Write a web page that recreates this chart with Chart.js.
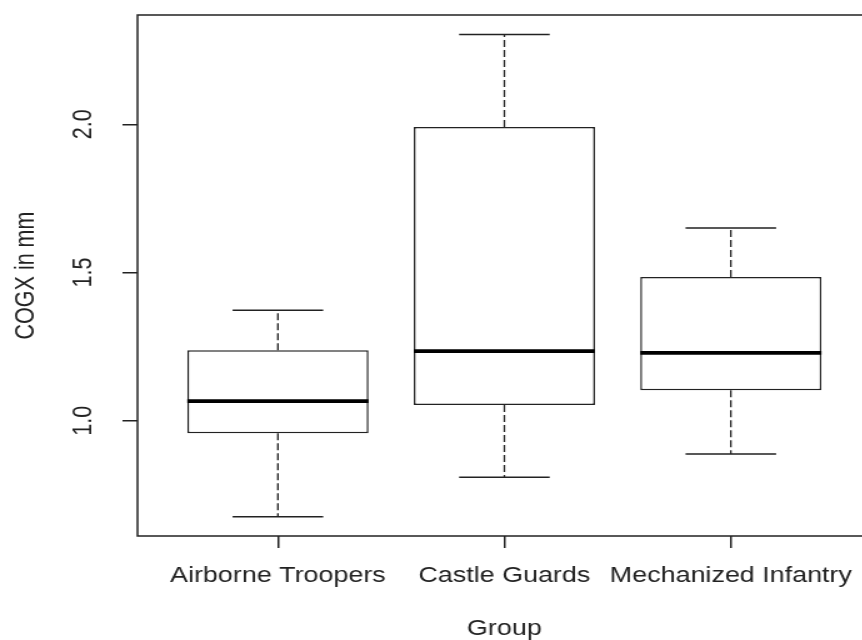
<!DOCTYPE html>
<html>
<head>
<meta charset="utf-8">
<script src="https://cdn.jsdelivr.net/npm/chart.js@4"></script>
<style>
  html, body { margin: 0; padding: 0; background: #fff; overflow: hidden; }
</style>
</head>
<body>
<!-- drawn narrow and stretched sideways, like the original image -->
<canvas id="chart" width="720" height="640" style="display:block;width:900px;height:640px"></canvas>
<script>
const groups = ['Airborne Troopers', 'Castle Guards', 'Mechanized Infantry'];
const lowerWhisker = [0.676, 0.809, 0.888];
const lowerQuartile = [0.958, 1.053, 1.103];
const medians = [1.066, 1.235, 1.229];
const upperQuartile = [1.238, 1.991, 1.485];
const upperWhisker = [1.373, 2.303, 1.650];
const yTicks = [1.0, 1.5, 2.0];

const ink = '#222';
const fontFamily = '"Liberation Sans", Arial, sans-serif';

// median, whiskers and caps plus the plot frame
const boxPlotParts = {
  id: 'boxPlotParts',
  beforeDatasetsDraw(chart) {
    const {ctx, chartArea: a} = chart;
    ctx.save();
    ctx.strokeStyle = ink;
    ctx.lineWidth = 1.5;
    ctx.strokeRect(a.left, a.top, a.right - a.left, a.bottom - a.top);
    ctx.restore();
  },
  afterDatasetsDraw(chart) {
    const {ctx, scales: {x, y}} = chart;
    ctx.save();
    ctx.strokeStyle = ink;
    groups.forEach((g, i) => {
      const cx = x.getPixelForValue(i + 1);
      const capL = x.getPixelForValue(i + 1 - 0.2);
      const capR = x.getPixelForValue(i + 1 + 0.2);
      const boxL = x.getPixelForValue(i + 1 - 0.4);
      const boxR = x.getPixelForValue(i + 1 + 0.4);

      ctx.setLineDash([7, 3]);
      ctx.lineWidth = 1.3;
      ctx.beginPath();
      ctx.moveTo(cx, y.getPixelForValue(upperQuartile[i]));
      ctx.lineTo(cx, y.getPixelForValue(upperWhisker[i]));
      ctx.moveTo(cx, y.getPixelForValue(lowerQuartile[i]));
      ctx.lineTo(cx, y.getPixelForValue(lowerWhisker[i]));
      ctx.stroke();

      ctx.setLineDash([]);
      ctx.lineWidth = 1.5;
      ctx.beginPath();
      ctx.moveTo(capL, y.getPixelForValue(upperWhisker[i]));
      ctx.lineTo(capR, y.getPixelForValue(upperWhisker[i]));
      ctx.moveTo(capL, y.getPixelForValue(lowerWhisker[i]));
      ctx.lineTo(capR, y.getPixelForValue(lowerWhisker[i]));
      ctx.stroke();

      ctx.strokeStyle = '#000';
      ctx.lineWidth = 3.8;
      ctx.beginPath();
      ctx.moveTo(boxL, y.getPixelForValue(medians[i]));
      ctx.lineTo(boxR, y.getPixelForValue(medians[i]));
      ctx.stroke();
      ctx.strokeStyle = ink;
    });
    ctx.restore();
  }
};

new Chart(document.getElementById('chart'), {
  type: 'bar',
  data: {
    datasets: [{
      data: groups.map((g, i) => ({x: i + 1, y: [lowerQuartile[i], upperQuartile[i]]})),
      backgroundColor: '#fff',
      borderColor: ink,
      borderWidth: 1.5,
      borderSkipped: false,
      barPercentage: 0.8,
      categoryPercentage: 1
    }]
  },
  options: {
    responsive: false,
    animation: false,
    devicePixelRatio: 1,
    layout: { padding: { top: 15, right: 23, left: 0, bottom: 0 } },
    plugins: { legend: { display: false }, tooltip: { enabled: false } },
    scales: {
      x: {
        type: 'linear',
        min: 0.38,
        max: 3.62,
        offset: false,
        grid: { offset: false, drawOnChartArea: false, tickLength: 12, color: ink, lineWidth: 1.5 },
        border: { display: false },
        afterBuildTicks: s => { s.ticks = [1, 2, 3].map(v => ({value: v})); },
        afterFit: s => { s.height = 104; s.paddingLeft = 0; s.paddingRight = 0; },
        ticks: {
          autoSkip: false, maxRotation: 0, padding: 15, color: ink,
          font: { family: fontFamily, size: 21.5 },
          callback: v => groups[Math.round(v) - 1] || ''
        },
        title: {
          display: true, text: 'Group', color: ink,
          font: { family: fontFamily, size: 21.5, lineHeight: 1 },
          padding: { top: 0, bottom: 0 }
        }
      },
      y: {
        min: 0.611,
        max: 2.369,
        beginAtZero: false,
        grid: { drawOnChartArea: false, tickLength: 12, color: ink, lineWidth: 1.5 },
        border: { display: false },
        afterBuildTicks: s => { s.ticks = yTicks.map(v => ({value: v})); },
        afterFit: s => { s.width = 110; s.paddingTop = 0; s.paddingBottom = 0; },
        ticks: {
          minRotation: 90, maxRotation: 90, crossAlign: 'center', padding: 16, color: ink,
          font: { family: fontFamily, size: 21.5 },
          callback: v => v.toFixed(1)
        },
        title: {
          display: true, text: 'COGX in mm', color: ink,
          font: { family: fontFamily, size: 21.5, lineHeight: 1.2 },
          padding: { top: 8, bottom: 0 }
        }
      }
    }
  },
  plugins: [boxPlotParts]
});
</script>
</body>
</html>
